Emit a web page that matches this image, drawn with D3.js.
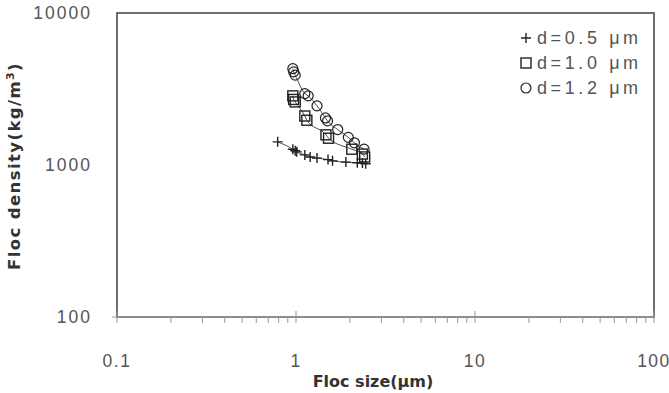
<!DOCTYPE html>
<html>
  <head>
    <meta charset="utf-8" />
    <title>floc density</title>
    <script type="text/javascript" src="https://d3js.org/d3.v7.min.js"></script>
    <style>
      body { margin: 0; background: #fff; }
      text { font-family: "Liberation Sans", Arial, sans-serif; }
      .title { font-family: "DejaVu Sans", sans-serif; }
    </style>
  </head>
  <body>
    <div id="chart"></div>
    <script>
// values
const sizeD05 = [0.79, 0.96, 0.99, 1.01, 1.12, 1.20, 1.31, 1.51, 1.60, 1.90, 2.20, 2.35, 2.45];
const densD05 = [1420, 1270, 1240, 1220, 1165, 1130, 1110, 1085, 1065, 1045, 1035, 1030, 1020];
const sizeD10 = [0.96, 0.97, 0.99, 1.12, 1.15, 1.47, 1.52, 2.05, 2.35, 2.42];
const densD10 = [2850, 2700, 2600, 2100, 1970, 1580, 1500, 1270, 1180, 1130];
const sizeD12 = [0.96, 0.97, 0.99, 1.12, 1.17, 1.31, 1.46, 1.50, 1.71, 1.96, 2.12, 2.40];
const densD12 = [4300, 4100, 3900, 2950, 2850, 2450, 2040, 1950, 1710, 1520, 1400, 1270];
const xTicks = [0.1, 1, 10, 100];
const yTicks = [100, 1000, 10000];
const legendLabels = ["d=0.5 \u03bcm", "d=1.0 \u03bcm", "d=1.2 \u03bcm"];

const W = 669, H = 393;
const plotL = 117, plotR = 654, plotT = 13, plotB = 317;

const svg = d3.select("#chart").append("svg")
  .attr("width", W).attr("height", H);

const x = d3.scaleLog().domain([0.1, 100]).range([plotL, plotR]);
const y = d3.scaleLog().domain([100, 10000]).range([plotB, plotT]);

// frame
svg.append("rect")
  .attr("x", plotL).attr("y", plotT)
  .attr("width", plotR - plotL).attr("height", plotB - plotT)
  .attr("fill", "none").attr("stroke", "#4a4a4a").attr("stroke-width", 1.6);

// x axis, major ticks both sides, minor below
const minor = [];
for (let d = 0.1; d < 100; d *= 10) {
  for (let k = 2; k <= 9; k++) minor.push(d * k);
}
svg.append("g").selectAll("line").data(minor).join("line")
  .attr("x1", d => x(d)).attr("x2", d => x(d))
  .attr("y1", plotB).attr("y2", plotB + 6)
  .attr("stroke", "#999").attr("stroke-width", 1);
svg.append("line")
  .attr("x1", plotL).attr("x2", plotR).attr("y1", plotB).attr("y2", plotB)
  .attr("stroke", "#999").attr("stroke-width", 1.6);
svg.append("g").selectAll("line").data(xTicks).join("line")
  .attr("x1", d => x(d)).attr("x2", d => x(d))
  .attr("y1", plotB - 6).attr("y2", plotB + 6)
  .attr("stroke", "#999").attr("stroke-width", 1);
svg.append("g").selectAll("text").data(xTicks).join("text")
  .attr("x", d => x(d)).attr("y", 367)
  .attr("text-anchor", "middle")
  .attr("font-size", 17.5).attr("fill", "#555").attr("letter-spacing", 1.5)
  .text(d => d);

// y axis labels
svg.append("line")
  .attr("x1", plotL - 5).attr("x2", plotL).attr("y1", plotB).attr("y2", plotB)
  .attr("stroke", "#999");
svg.append("g").selectAll("text").data(yTicks).join("text")
  .attr("x", 92).attr("y", d => y(d) + 6)
  .attr("text-anchor", "end")
  .attr("font-size", 17.5).attr("fill", "#555").attr("letter-spacing", 2)
  .text(d => d);

// axis titles
svg.append("text").attr("class", "title")
  .attr("x", 373).attr("y", 387)
  .attr("text-anchor", "middle")
  .attr("font-size", 16).attr("font-weight", "bold").attr("fill", "#333")
  .text("Floc size(\u03bcm)");
const yt = svg.append("text").attr("class", "title")
  .attr("transform", "translate(20,166) rotate(-90)")
  .attr("text-anchor", "middle")
  .attr("font-size", 16.5).attr("font-weight", "bold").attr("fill", "#333")
  .attr("letter-spacing", 1.4);
yt.append("tspan").text("Floc density(kg/m");
yt.append("tspan").attr("font-size", 11).attr("dy", -6).text("3");
yt.append("tspan").attr("dy", 6).text(")");

// thin trend lines
const series = [
  { xs: sizeD05, ys: densD05, shape: "plus" },
  { xs: sizeD10, ys: densD10, shape: "square" },
  { xs: sizeD12, ys: densD12, shape: "circle" }
];
const line = d3.line().x(d => x(d[0])).y(d => y(d[1])).curve(d3.curveMonotoneX);
series.forEach(s => {
  const pts = s.xs.map((v, i) => [v, s.ys[i]]);
  svg.append("path").datum(pts)
    .attr("d", line)
    .attr("fill", "none").attr("stroke", "#222").attr("stroke-width", 0.8);
});

function drawMarker(g, shape, cx, cy) {
  if (shape === "plus") {
    g.append("path")
      .attr("d", `M${cx - 5},${cy}H${cx + 5}M${cx},${cy - 5}V${cy + 5}`)
      .attr("stroke", "#222").attr("stroke-width", 1.4).attr("fill", "none");
  } else if (shape === "square") {
    g.append("rect")
      .attr("x", cx - 5).attr("y", cy - 5).attr("width", 10).attr("height", 10)
      .attr("stroke", "#222").attr("stroke-width", 1.4).attr("fill", "none");
  } else {
    g.append("circle")
      .attr("cx", cx).attr("cy", cy).attr("r", 5)
      .attr("stroke", "#222").attr("stroke-width", 1.2).attr("fill", "none");
  }
}

series.forEach(s => {
  const g = svg.append("g");
  s.xs.forEach((v, i) => drawMarker(g, s.shape, x(v), y(s.ys[i])));
});

// legend
const lg = svg.append("g");
legendLabels.forEach((lab, i) => {
  const ly = 38 + i * 25;
  drawMarker(lg, series[i].shape, 526, ly);
  lg.append("text")
    .attr("x", 537).attr("y", ly + 6)
    .attr("font-size", 18).attr("fill", "#555").attr("letter-spacing", 3.6)
    .text(lab);
});
    </script>
  </body>
</html>
